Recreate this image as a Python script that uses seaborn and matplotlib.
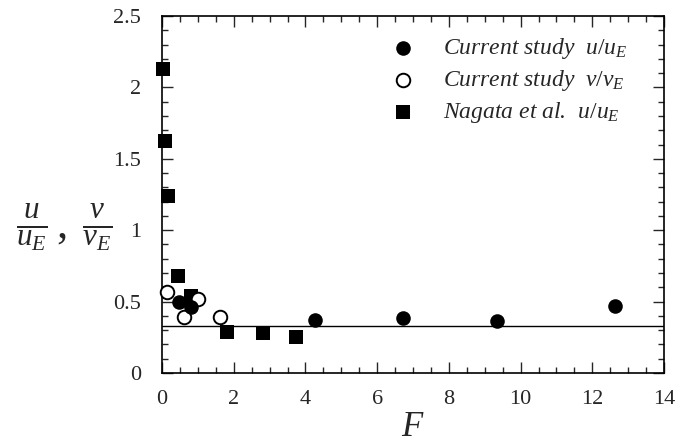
import matplotlib
matplotlib.use("Agg")
import matplotlib.pyplot as plt
import seaborn as sns
import pandas as pd
from matplotlib.ticker import MultipleLocator

# Velocity ratios against F
cur_u_F = [0.47, 0.81, 4.27, 6.72, 9.34, 12.63]
cur_u_val = [0.50, 0.46, 0.37, 0.385, 0.364, 0.47]

cur_v_F = [0.14, 0.61, 1.00, 1.62]
cur_v_val = [0.57, 0.39, 0.52, 0.39]

nag_F = [0.03, 0.08, 0.17, 0.45, 0.81, 1.81, 2.82, 3.74]
nag_val = [2.13, 1.625, 1.24, 0.68, 0.54, 0.29, 0.28, 0.25]

asymptote = 0.33

labels = ["Current study  $u/u_E$", "Current study  $v/v_E$", "Nagata et al.  $u/u_E$"]

sns.set_style("ticks")
plt.rcParams["font.family"] = ["Liberation Serif", "DejaVu Serif"]
plt.rcParams["mathtext.fontset"] = "custom"
plt.rcParams["mathtext.it"] = "Liberation Serif:italic"
plt.rcParams["mathtext.rm"] = "Liberation Serif"
plt.rcParams["mathtext.bf"] = "Liberation Serif:bold"

fig = plt.figure(figsize=(6.76, 4.44), dpi=100)
ax = fig.add_axes([162 / 676, 1 - 373 / 444, (664 - 162) / 676, (373 - 16) / 444])

df_u = pd.DataFrame({"F": cur_u_F, "r": cur_u_val})
df_v = pd.DataFrame({"F": cur_v_F, "r": cur_v_val})
df_n = pd.DataFrame({"F": nag_F, "r": nag_val})

ax.axhline(asymptote, color="black", lw=1.0, zorder=1)

sns.scatterplot(data=df_n, x="F", y="r", marker="s", s=110, color="black",
                edgecolor="black", linewidth=0, label=labels[2], ax=ax,
                zorder=3, clip_on=False)
sns.scatterplot(data=df_v, x="F", y="r", marker="o", s=95, facecolor="white",
                edgecolor="black", linewidth=1.4, label=labels[1], ax=ax,
                zorder=4, clip_on=False)
sns.scatterplot(data=df_u, x="F", y="r", marker="o", s=110, color="black",
                edgecolor="black", linewidth=0, label=labels[0], ax=ax,
                zorder=5, clip_on=False)

ax.set_xlim(0, 14)
ax.set_ylim(0, 2.5)
ax.xaxis.set_major_locator(MultipleLocator(2))
ax.xaxis.set_minor_locator(MultipleLocator(0.5))
ax.yaxis.set_major_locator(MultipleLocator(0.5))
ax.yaxis.set_minor_locator(MultipleLocator(0.1))
ax.set_yticks([0, 0.5, 1, 1.5, 2, 2.5])
ax.set_yticklabels(["0", "0.5", "1", "1.5", "2", "2.5"])

ax.tick_params(which="both", direction="in", top=True, right=True,
               labelsize=16, width=1.0)
ax.tick_params(which="major", length=8)
ax.tick_params(axis="y", which="major", pad=15)
ax.tick_params(axis="x", which="major", pad=12)
ax.tick_params(which="minor", length=4)
for sp in ax.spines.values():
    sp.set_linewidth(1.2)
    sp.set_color("black")

ax.set_xlabel("$F$", fontsize=25, labelpad=2)
ax.set_ylabel("")
fig.text(0.096, 0.487, r"$\frac{u}{u_E}\,,\;\frac{v}{v_E}$", fontsize=32,
         ha="center", va="center")

handles, labs = ax.get_legend_handles_labels()
order = [labs.index(l) for l in labels]
leg = ax.legend([handles[i] for i in order], [labs[i] for i in order],
                loc="upper left", bbox_to_anchor=(0.41, 1.003), frameon=False,
                prop={"family": "Liberation Serif", "style": "italic", "size": 17},
                handletextpad=1.1, handlelength=1.2, labelspacing=0.3,
                markerscale=1.0)

fig.savefig("out.png", dpi=100)
